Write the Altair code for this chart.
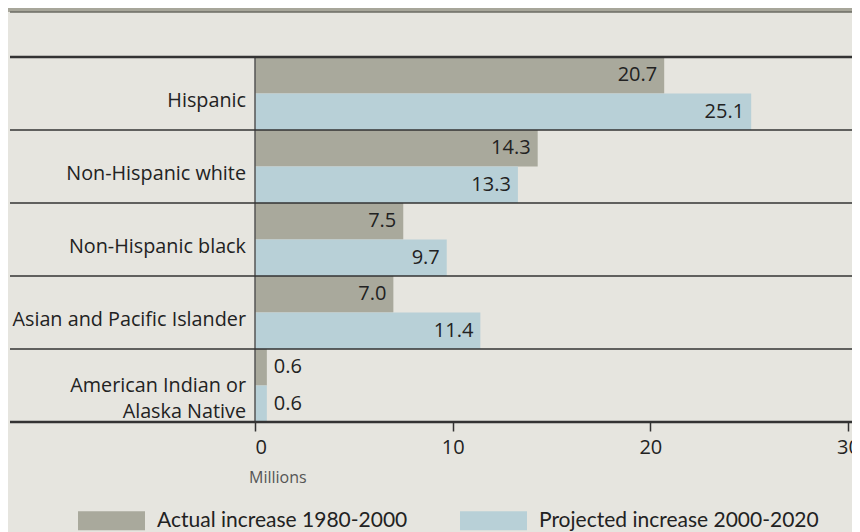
import altair as alt
import pandas as pd

categories = ["Hispanic", "Non-Hispanic white", "Non-Hispanic black",
              "Asian and Pacific Islander", "American Indian or Alaska Native"]
display_labels = ["Hispanic", "Non-Hispanic white", "Non-Hispanic black",
                  "Asian and Pacific Islander", "American Indian or\nAlaska Native"]
series = ["Actual increase 1980-2000", "Projected increase 2000-2020"]
actual = [20.7, 14.3, 7.5, 7.0, 0.6]
projected = [25.1, 13.3, 9.7, 11.4, 0.6]
tick_values = [0, 10, 20, 30]
colors = ["#a9a99c", "#b8d0d7"]

rows = []
for c, a, p in zip(categories, actual, projected):
    rows.append({"category": c, "series": series[0], "value": a})
    rows.append({"category": c, "series": series[1], "value": p})
df = pd.DataFrame(rows)
lab_df = pd.DataFrame({"category": categories, "label": display_labels,
                       "multi": ["\n" in l for l in display_labels]})

W, H = 597, 365
BG = "#e6e5df"
FONT = "Open Sans"
INK = "#222222"

yscale = alt.Scale(paddingInner=0, paddingOuter=0)
Y = alt.Y("category:N", sort=categories, axis=None, scale=yscale)
YO = alt.YOffset("series:N", sort=series, scale=alt.Scale(paddingInner=0, paddingOuter=0))
X = alt.X("value:Q", scale=alt.Scale(domain=[0, 30.2], nice=False, zero=True),
          axis=alt.Axis(values=tick_values, title=None, domain=False, grid=False,
                        tickSize=9, tickColor="#333333", tickWidth=1.5,
                        labelFontSize=20, labelFont=FONT, labelColor=INK,
                        labelPadding=6, format="d"))

base = alt.Chart(df)

bars = base.mark_bar(stroke=None).encode(
    x=X, y=Y, yOffset=YO,
    color=alt.Color("series:N", sort=series,
                    scale=alt.Scale(domain=series, range=colors),
                    legend=alt.Legend(
                        title=None, orient="none", direction="horizontal",
                        legendX=-177, legendY=430, padding=0,
                        symbolType="M-1,-0.2836L1,-0.2836L1,0.2836L-1,0.2836Z",
                        symbolSize=4489, symbolStrokeWidth=0, symbolOpacity=1,
                        labelFont="Lato", labelFontSize=21,
                        labelColor=INK, labelOffset=12, columnPadding=52,
                        labelLimit=400)),
)

labels_in = base.transform_filter("datum.value >= 2").mark_text(
    align="right", baseline="middle", dx=-7, fontSize=20, font=FONT, color=INK
).encode(x="value:Q", y=Y, yOffset=YO, text=alt.Text("value:Q", format=".1f"))

labels_out = base.transform_filter("datum.value < 2").mark_text(
    align="left", baseline="middle", dx=7, fontSize=20, font=FONT, color=INK
).encode(x="value:Q", y=Y, yOffset=YO, text=alt.Text("value:Q", format=".1f"))

cat_single = alt.Chart(lab_df).transform_filter("!datum.multi").mark_text(
    align="right", baseline="middle", dx=-9, dy=7, fontSize=19.8, font=FONT, color=INK
).encode(x=alt.value(0), y=Y, text="label:N")

cat_multi = alt.Chart(lab_df).transform_filter("datum.multi").mark_text(
    align="right", baseline="middle", dx=-9, dy=0, fontSize=19.8, font=FONT, color=INK,
    lineBreak="\n", lineHeight=26
).encode(x=alt.value(0), y=Y, text="label:N")

def hrule(yv, color, width):
    return alt.Chart(pd.DataFrame({"a": [0]})).mark_rule(color=color, strokeWidth=width).encode(
        x=alt.value(-245), x2=alt.value(W), y=alt.value(yv))

band = alt.Chart(pd.DataFrame({"a": [0]})).mark_rect(color="#a7a69a").encode(
    x=alt.value(-247), x2=alt.value(W), y=alt.value(-49), y2=alt.value(-45))

vline = alt.Chart(pd.DataFrame({"a": [0]})).mark_rule(color="#555555", strokeWidth=1.5).encode(
    x=alt.value(0), y=alt.value(0), y2=alt.value(H))

millions = alt.Chart(pd.DataFrame({"t": ["Millions"]})).mark_text(
    align="left", baseline="middle", fontSize=16, font=FONT, color="#555555"
).encode(x=alt.value(-6), y=alt.value(421), text="t:N")

layers = [band, hrule(-45, "#6b6b63", 1.5), bars, labels_in, labels_out,
          cat_single, cat_multi, vline]
for i in range(1, 5):
    layers.append(hrule(73 * i, "#333333", 1.5))
layers += [hrule(0, "#333333", 2.5), hrule(H, "#333333", 2.5), millions]

chart = alt.layer(*layers).properties(
    width=W, height=H,
    autosize=alt.AutoSizeParams(type="none"),
    padding={"left": 247, "top": 49, "right": 0, "bottom": 110},
    background=BG,
).configure_view(stroke=None, fill=BG)

chart.save("out.html", embed_options={"renderer": "svg", "actions": False})
